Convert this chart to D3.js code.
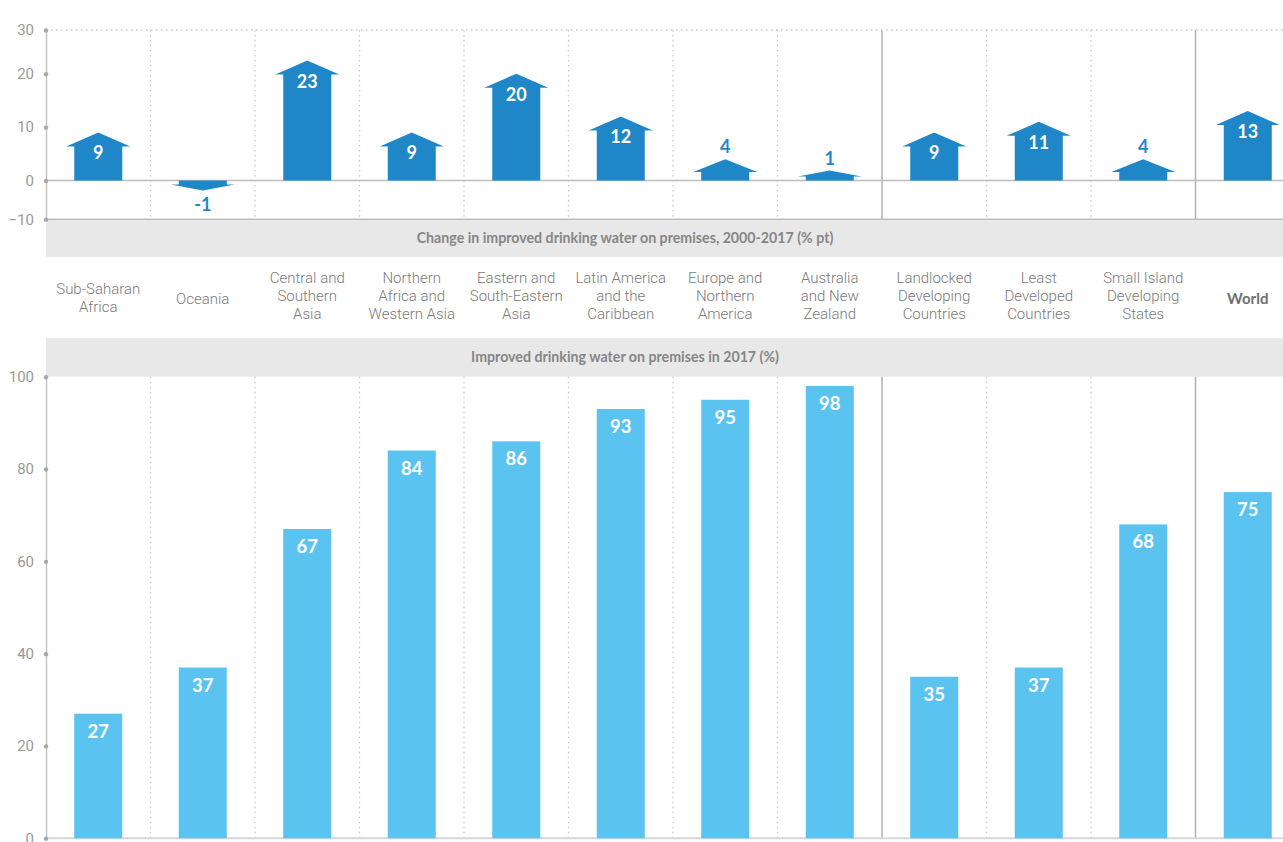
<!DOCTYPE html>
<html><head><meta charset="utf-8">
<script src="https://cdn.jsdelivr.net/npm/d3@7"></script>
<style>
html,body{margin:0;padding:0;background:#fff;}
svg{display:block;}
</style></head>
<body>
<svg id="chart" width="1283" height="842"></svg>
<script>
const categories = ["Sub-Saharan Africa","Oceania","Central and Southern Asia","Northern Africa and Western Asia","Eastern and South-Eastern Asia","Latin America and the Caribbean","Europe and Northern America","Australia and New Zealand","Landlocked Developing Countries","Least Developed Countries","Small Island Developing States","World"];
const labelLines = [["Sub-Saharan","Africa"],["Oceania"],["Central and","Southern","Asia"],["Northern","Africa and","Western Asia"],["Eastern and","South-Eastern","Asia"],["Latin America","and the","Caribbean"],["Europe and","Northern","America"],["Australia","and New","Zealand"],["Landlocked","Developing","Countries"],["Least","Developed","Countries"],["Small Island","Developing","States"],["World"]];
const groups = ["region","region","region","region","region","region","region","region","special","special","special","world"];
const changeValues = [9,-1,23,9,20,12,4,1,9,11,4,13];
const coverageValues = [27,37,67,84,86,93,95,98,35,37,68,75];
const changeTicks = [-10,0,10,20,30];
const coverageTicks = [0,20,40,60,80,100];
const changeTitle = "Change in improved drinking water on premises, 2000-2017 (% pt)";
const coverageTitle = "Improved drinking water on premises in 2017 (%)";

const W = 1283, H = 842;
const svg = d3.select("#chart");
const axisX = 46;
const arrowColor = "#1f87c8", barColor = "#5bc3ef";
const gridGrey = "#bdbdbd";
const fontLabel = "Roboto, 'Noto Sans', sans-serif";
const fontBold = "Lato, 'Open Sans', sans-serif";

const x = d3.scaleBand().domain(categories).range([axisX, 1300]).paddingInner(0).paddingOuter(0);
const bw = 48, headW = 64, minArrow = 10;

// top scale (as drawn in reference: uneven tick spacing)
const yTop = d3.scaleLinear().domain([-10,0,20,30]).range([219.3,180.5,73.7,30]);
// bottom scale
const yBot = d3.scaleLinear().domain([0,100]).range([838.3,376.7]);

// ---------- grey title bands ----------
const bands = [{y0:219.3,y1:257,title:changeTitle},{y0:338,y1:376.7,title:coverageTitle}];
svg.selectAll("rect.band").data(bands).join("rect")
  .attr("x",axisX).attr("y",d=>d.y0).attr("width",W-axisX).attr("height",d=>d.y1-d.y0)
  .attr("fill","#e8e8e8");
svg.selectAll("text.bandtitle").data(bands).join("text")
  .attr("x",625).attr("y",d=>(d.y0+d.y1)/2+5)
  .attr("text-anchor","middle").attr("font-family",fontBold).attr("font-weight",700)
  .attr("font-size",14.2).attr("fill","#868686").text(d=>d.title);

// ---------- separators ----------
function separators(g, y0, y1){
  categories.slice(1).forEach((c,i)=>{
    const solid = groups[i+1] !== groups[i];
    g.append("line").attr("x1",x(c)).attr("x2",x(c)).attr("y1",y0).attr("y2",y1)
      .attr("stroke", solid ? "#b0b0b0" : "#c8c8c8")
      .attr("stroke-width", solid ? 1.5 : 1.3)
      .attr("stroke-dasharray", solid ? null : "1.5,3.5");
  });
}
const gTop = svg.append("g");
const gBot = svg.append("g");
separators(gTop, yTop(30), yTop(-10));
separators(gBot, yBot(100), yBot(0));

// top dotted gridline at 30
gTop.append("line").attr("x1",axisX).attr("x2",W).attr("y1",yTop(30)).attr("y2",yTop(30))
  .attr("stroke","#c8c8c8").attr("stroke-width",1.3).attr("stroke-dasharray","1.5,3.5");
// zero and bottom lines
gTop.append("line").attr("x1",axisX).attr("x2",W).attr("y1",yTop(0)).attr("y2",yTop(0))
  .attr("stroke",gridGrey).attr("stroke-width",1.5);
gTop.append("line").attr("x1",axisX).attr("x2",W).attr("y1",yTop(-10)).attr("y2",yTop(-10))
  .attr("stroke",gridGrey).attr("stroke-width",1.5);
gBot.append("line").attr("x1",axisX).attr("x2",W).attr("y1",yBot(0)).attr("y2",yBot(0))
  .attr("stroke","#d6d6d6").attr("stroke-width",2);

// ---------- y axes ----------
function yAxis(g, scale, ticks){
  const ax = d3.axisLeft(scale).tickValues(ticks).tickSize(0).tickPadding(12);
  const a = g.append("g").attr("transform",`translate(${axisX},0)`).call(ax);
  a.select(".domain").attr("stroke","#c4c4c4").attr("stroke-width",1.5);
  a.selectAll("text").attr("font-family",fontLabel).attr("font-size",15).attr("fill","#9a9a9a");
  a.selectAll(".tick").append("circle").attr("r",2.2).attr("fill","#a8a8a8");
}
yAxis(gTop, yTop, changeTicks);
yAxis(gBot, yBot, coverageTicks);

// ---------- arrows ----------
const data = categories.map((c,i)=>({c, v:changeValues[i], p:coverageValues[i], g:groups[i]}));
function tipY(d){
  const y0 = yTop(0), yt = yTop(d.v);
  const dir = d.v < 0 ? 1 : -1;
  return Math.abs(yt - y0) < minArrow ? y0 + dir*minArrow : yt;
}
function arrowPath(d){
  const cx = x(d.c) + x.bandwidth()/2;
  const y0 = yTop(0), yt = tipY(d);
  const dir = d.v < 0 ? 1 : -1;
  const h = Math.min(14, 0.6*Math.abs(yt - y0));
  const ys = yt - dir*h;
  const p = d3.path();
  p.moveTo(cx-bw/2, y0);
  p.lineTo(cx-bw/2, ys);
  p.lineTo(cx-headW/2, ys);
  p.lineTo(cx, yt);
  p.lineTo(cx+headW/2, ys);
  p.lineTo(cx+bw/2, ys);
  p.lineTo(cx+bw/2, y0);
  p.closePath();
  return p.toString();
}
gTop.selectAll("path.arrow").data(data).join("path").attr("class","arrow")
  .attr("d",arrowPath).attr("fill",arrowColor);
gTop.selectAll("text.val").data(data).join("text")
  .attr("x",d=>x(d.c)+x.bandwidth()/2)
  .attr("y",d=>{
    const yt = tipY(d);
    if (d.v < 0) return yt + 20;
    if (d.v >= 5) return yt + 27;
    return yt - 6;
  })
  .attr("text-anchor","middle").attr("font-family",fontBold).attr("font-weight",700)
  .attr("font-size",18)
  .attr("fill",d=> (d.v>=5) ? "#fff" : arrowColor)
  .text(d=>d.v);

// ---------- bars ----------
gBot.selectAll("rect.bar").data(data).join("rect")
  .attr("x",d=>x(d.c)+(x.bandwidth()-bw)/2).attr("width",bw)
  .attr("y",d=>yBot(d.p)).attr("height",d=>yBot(0)-yBot(d.p))
  .attr("fill",barColor);
gBot.selectAll("text.bval").data(data).join("text")
  .attr("x",d=>x(d.c)+x.bandwidth()/2).attr("y",d=>yBot(d.p)+24)
  .attr("text-anchor","middle").attr("font-family",fontBold).attr("font-weight",700)
  .attr("font-size",18.5).attr("fill","#fff").text(d=>d.p);

// ---------- category labels ----------
const lh = 18.3;
const lab = svg.selectAll("text.cat").data(data).join("text")
  .attr("text-anchor","middle")
  .attr("font-family",d=> d.g==="world" ? fontBold : fontLabel)
  .attr("font-weight",d=> d.g==="world" ? 700 : 300)
  .attr("font-size",d=> d.g==="world" ? 15 : 15)
  .attr("fill",d=> d.g==="world" ? "#6e6e6e" : "#7a7a7a");
lab.each(function(d,i){
  const lines = labelLines[i];
  const t = d3.select(this);
  const cx = x(d.c)+x.bandwidth()/2;
  const mid = 296 + (3-lines.length)*1.7;
  const startY = mid - (lines.length-1)*lh/2 + 5;
  lines.forEach((ln,j)=>{
    t.append("tspan").attr("x",cx).attr("y",startY + j*lh).text(ln);
  });
});
</script>
</body></html>
